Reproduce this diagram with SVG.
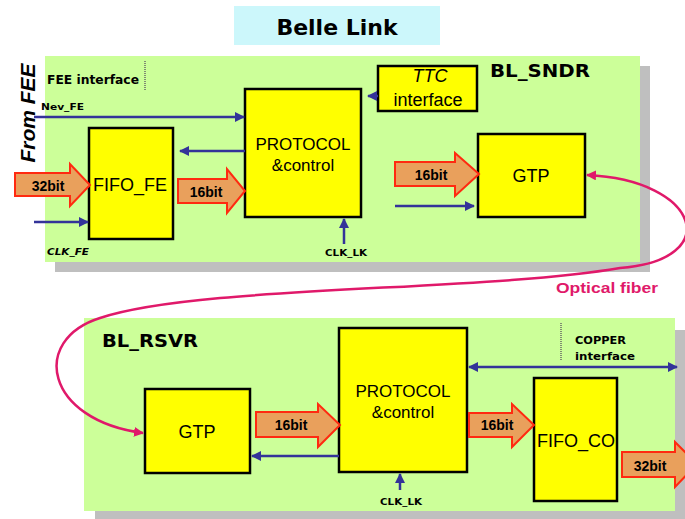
<svg xmlns="http://www.w3.org/2000/svg" width="685" height="519" viewBox="0 0 685 519">
<style>
.panel{fill:#ccff99}
.shadow{fill:#bfbfbf}
.box{fill:#ffff00;stroke:#000;stroke-width:2.5}
.bus{fill:#e9a05c;stroke:#ff2a10;stroke-width:2}
.sig{stroke:#333399;stroke-width:2.5;fill:none}
.lbl{font-family:"Liberation Sans",Arial,sans-serif;fill:#000}
.bt{font-family:"Liberation Sans",Arial,sans-serif;font-weight:bold;fill:#000}
.dv{font-family:"DejaVu Sans",Verdana,sans-serif;font-weight:bold;fill:#000}
.dot{stroke:#666;stroke-width:1.5;stroke-dasharray:1 1}
</style>
<defs>
<marker id="ab" viewBox="0 0 10 10" refX="9" refY="5" markerWidth="4" markerHeight="4" orient="auto-start-reverse" markerUnits="strokeWidth">
<path d="M0,0 L10,5 L0,10 z" fill="#333399"/>
</marker>
<marker id="ap" viewBox="0 0 10 10" refX="9" refY="5" markerWidth="4" markerHeight="4" orient="auto-start-reverse" markerUnits="strokeWidth">
<path d="M0,0 L10,5 L0,10 z" fill="#e0196a"/>
</marker>
</defs>
<rect width="685" height="519" fill="#fff"/>

<g id="title">
<rect x="234" y="6" width="206" height="39" fill="#ccf7fb"/>
<text x="337" y="35" text-anchor="middle" class="dv" font-size="22">Belle Link</text>
</g>

<g id="bl_sndr">
<rect class="shadow" x="55" y="66" width="595" height="206"/>
<rect class="panel" x="45" y="56" width="595" height="206"/>
<text x="490" y="77" class="dv" font-size="18" textLength="100" lengthAdjust="spacingAndGlyphs">BL_SNDR</text>
<text x="47" y="84" class="dv" font-size="12" textLength="92" lengthAdjust="spacingAndGlyphs">FEE interface</text>
<line class="dot" x1="145" y1="61" x2="145" y2="90"/>
<text x="41" y="110" class="dv" font-size="9.5" textLength="43" lengthAdjust="spacingAndGlyphs">Nev_FE</text>
<text x="47" y="255" class="dv" font-size="9.5" font-style="italic" textLength="42" lengthAdjust="spacingAndGlyphs">CLK_FE</text>
<text x="325" y="256" class="dv" font-size="9.5" textLength="42" lengthAdjust="spacingAndGlyphs">CLK_LK</text>
</g>

<g id="bl_rsvr">
<rect class="shadow" x="95" y="330" width="590" height="189"/>
<rect class="panel" x="84" y="318" width="591" height="193"/>
<text x="102" y="347" class="dv" font-size="18" textLength="96" lengthAdjust="spacingAndGlyphs">BL_RSVR</text>
<line class="dot" x1="561" y1="323" x2="561" y2="360"/>
<text x="575" y="344" class="dv" font-size="11" textLength="51" lengthAdjust="spacingAndGlyphs">COPPER</text>
<text x="575" y="360" class="dv" font-size="11" textLength="60" lengthAdjust="spacingAndGlyphs">interface</text>
<text x="380" y="505" class="dv" font-size="9.5" textLength="42" lengthAdjust="spacingAndGlyphs">CLK_LK</text>
</g>

<g id="from_fee">
<text transform="translate(35,113) rotate(-90)" text-anchor="middle" class="bt" font-size="21" font-style="italic">From FEE</text>
</g>

<g id="fifo_fe">
<rect class="box" x="89" y="128" width="84" height="111"/>
<text x="130" y="191" text-anchor="middle" class="lbl" font-size="18">FIFO_FE</text>
</g>

<g id="protocol_top">
<rect class="box" x="245" y="89" width="116" height="128"/>
<text x="303" y="150" text-anchor="middle" class="lbl" font-size="17">PROTOCOL</text>
<text x="303" y="171" text-anchor="middle" class="lbl" font-size="17">&amp;control</text>
</g>

<g id="ttc">
<rect class="box" x="378" y="66" width="99" height="45"/>
<text x="430" y="82" text-anchor="middle" class="lbl" font-size="18" font-style="italic">TTC</text>
<text x="428" y="106" text-anchor="middle" class="lbl" font-size="18">interface</text>
</g>

<g id="gtp_top">
<rect class="box" x="478" y="134" width="107" height="83"/>
<text x="531" y="182" text-anchor="middle" class="lbl" font-size="18">GTP</text>
</g>

<g id="gtp_bot">
<rect class="box" x="145" y="389" width="105" height="84"/>
<text x="197" y="438" text-anchor="middle" class="lbl" font-size="18">GTP</text>
</g>

<g id="protocol_bot">
<rect class="box" x="339" y="328" width="128" height="144"/>
<text x="403" y="397" text-anchor="middle" class="lbl" font-size="17">PROTOCOL</text>
<text x="403" y="418" text-anchor="middle" class="lbl" font-size="17">&amp;control</text>
</g>

<g id="fifo_co">
<rect class="box" x="534" y="378" width="83" height="123"/>
<text x="576" y="447" text-anchor="middle" class="lbl" font-size="18">FIFO_CO</text>
</g>

<g id="connectors">
<polygon class="bus" points="15,173 70,173 70,164 90,185 70,206 70,196 15,196"/>
<text x="48" y="191" text-anchor="middle" class="bt" font-size="14">32bit</text>
<polygon class="bus" points="178,179 227,179 227,169 245,191 227,213 227,203 178,203"/>
<text x="206" y="197" text-anchor="middle" class="bt" font-size="14">16bit</text>
<polygon class="bus" points="395,162 455,162 455,153 479,174 455,196 455,186 395,186"/>
<text x="431" y="180" text-anchor="middle" class="bt" font-size="14">16bit</text>
<polygon class="bus" points="256,412 318,412 318,404 340,425 318,447 318,437 256,437"/>
<text x="291" y="430" text-anchor="middle" class="bt" font-size="14">16bit</text>
<polygon class="bus" points="469,413 512,413 512,404 534,425 512,447 512,437 469,437"/>
<text x="497" y="430" text-anchor="middle" class="bt" font-size="14">16bit</text>
<polygon class="bus" points="622,452 675,452 675,442 697,464 675,487 675,477 622,477"/>
<text x="650" y="471" text-anchor="middle" class="bt" font-size="14">32bit</text>

<line class="sig" x1="34" y1="117" x2="244" y2="117" stroke-width="1.5" marker-end="url(#ab)"/>
<line class="sig" x1="245" y1="151" x2="180" y2="151" marker-end="url(#ab)"/>
<line class="sig" x1="34" y1="222" x2="88" y2="222" marker-end="url(#ab)"/>
<line class="sig" x1="344" y1="244" x2="344" y2="219" marker-end="url(#ab)"/>
<line class="sig" x1="378" y1="96" x2="368" y2="96" marker-end="url(#ab)"/>
<line class="sig" x1="395" y1="206" x2="474" y2="206" marker-end="url(#ab)"/>
<line class="sig" x1="339" y1="456" x2="252" y2="456" marker-end="url(#ab)"/>
<line class="sig" x1="400" y1="490" x2="400" y2="474" marker-end="url(#ab)"/>
<line class="sig" x1="469" y1="367" x2="677" y2="367" marker-start="url(#ab)" marker-end="url(#ab)"/>

<path d="M587,175 C700,180 725,260 620,268 C480,292 200,285 100,318 C30,340 45,420 143,433" fill="none" stroke="#e0196a" stroke-width="2.5" marker-start="url(#ap)" marker-end="url(#ap)"/>
<text x="556" y="293" font-family="'Liberation Sans',Arial,sans-serif" font-weight="bold" font-size="15" fill="#e0196a" textLength="102" lengthAdjust="spacingAndGlyphs">Optical fiber</text>
</g>
</svg>
